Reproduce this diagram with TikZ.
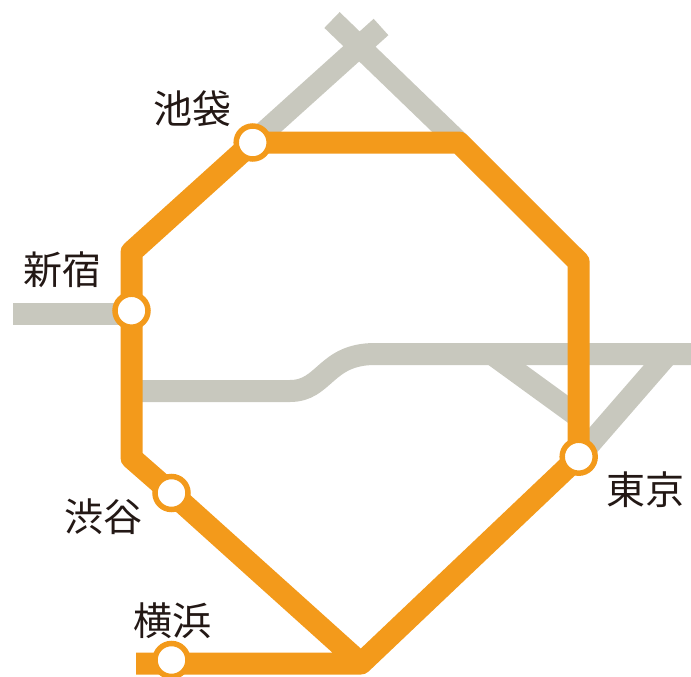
\documentclass[tikz,border=0pt]{standalone}
\usepackage{fontspec}
\newfontfamily\cjkjp{Noto Sans CJK JP}
\usetikzlibrary{backgrounds}
\definecolor{linegrey}{HTML}{C8C8BE}
\definecolor{lineorange}{HTML}{F39A1B}
\definecolor{labelink}{HTML}{231815}
\pgfdeclarelayer{greylayer}
\pgfdeclarelayer{orangelayer}
\pgfsetlayers{greylayer,orangelayer,main}
\tikzset{
  station/.style={circle,draw=lineorange,fill=white,line width=5.5pt,minimum size=33pt,inner sep=0pt},
  stationlabel/.style={text=labelink,font=\cjkjp\fontsize{39}{39}\selectfont,inner sep=0pt},
  loopline/.style={draw=lineorange,line width=22pt,line join=round},
  otherline/.style={draw=linegrey,line width=22pt,line cap=butt}
}
\begin{document}
\begin{tikzpicture}[x=1pt,y=-1pt]
\path[use as bounding box] (0,0) rectangle (691,677);
% stations
\node[station] (ike) at (252.7,142.5) {};
\node[station] (shj) at (131.5,310.7) {};
\node[station] (sby) at (171.5,493) {};
\node[station] (yok) at (171.5,660) {};
\node[station] (tky) at (578.7,456.7) {};
% labels
\node[stationlabel] (likeb) at (192.5,108.5) {池袋};
\node[stationlabel] (lshj) at (62.5,270) {新宿};
\node[stationlabel] (lsby) at (103,517) {渋谷};
\node[stationlabel] (lyok) at (172.5,621) {横浜};
\node[stationlabel] (ltky) at (645,490) {東京};
% route vertices
\coordinate (tr) at (459,142.5);
\coordinate (r) at (578.7,262);
\coordinate (tl) at (131.5,252);
\coordinate (bl) at (131.5,458);
\coordinate (bot) at (361,663.5);
\coordinate (yend) at (136,663.5);
\coordinate (nwend) at (381,27);
\coordinate (neend) at (332,20);
\coordinate (wend) at (13,313.5);
\coordinate (wjoin) at (131.5,313.5);
\coordinate (mwest) at (131.5,391);
\coordinate (m1) at (290,391);
\coordinate (m2) at (375,354);
\coordinate (eend) at (691,354);
\coordinate (b1) at (492,354);
\coordinate (b2) at (578.7,417);
\coordinate (b3) at (668,354);
\begin{pgfonlayer}{greylayer}
\draw[otherline] (ike.center) -- (nwend);
\draw[otherline] (neend) -- (tr);
\draw[otherline] (wend) -- (wjoin);
\draw[otherline] (mwest) -- (m1) .. controls (325,391) and (325,354) .. (m2) -- (eend);
\draw[otherline] (b1) -- (b2);
\draw[otherline] (b3) -- (tky.center);
\end{pgfonlayer}
\begin{pgfonlayer}{orangelayer}
\draw[loopline] (yend) -- (bot) -- (tky.center) -- (r) -- (tr) -- (ike.center) -- (tl) -- (bl) -- (sby.center) -- (bot);
\end{pgfonlayer}
\end{tikzpicture}
\end{document}
